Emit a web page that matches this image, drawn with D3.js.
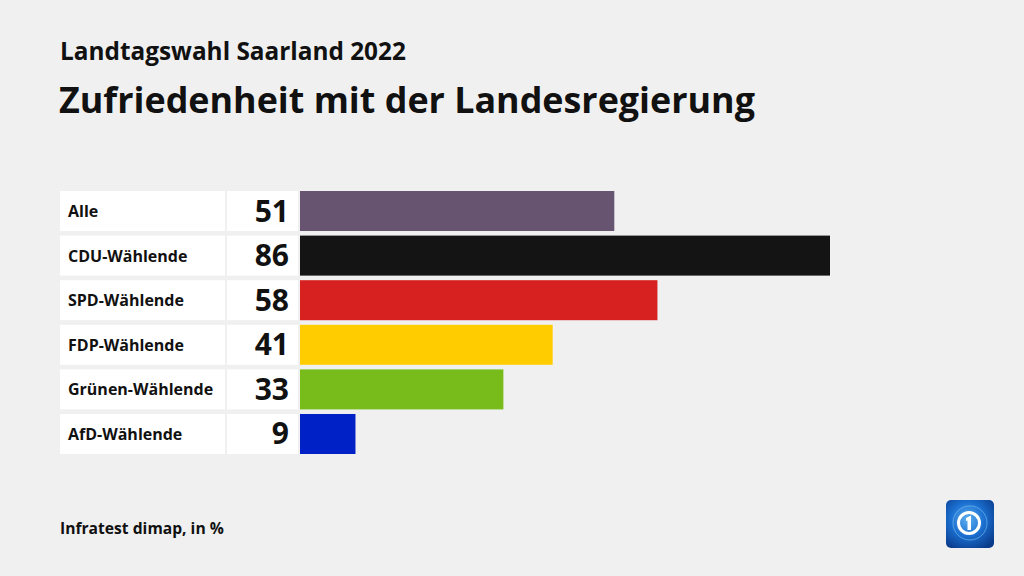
<!DOCTYPE html>
<html><head><meta charset="utf-8">
<script src="https://cdn.jsdelivr.net/npm/d3@7"></script>
<style>
html,body{margin:0;padding:0;background:#f0f0f0;}
text{font-family:"Open Sans","Noto Sans",sans-serif;font-weight:700;}
</style></head>
<body>
<svg id="c" width="1024" height="576"></svg>
<script>
const categories = ["Alle","CDU-Wählende","SPD-Wählende","FDP-Wählende","Grünen-Wählende","AfD-Wählende"];
const values = [51,86,58,41,33,9];
const colors = ["#675470","#141414","#d72020","#ffcc00","#78bc1b","#0021c5"];
const supertitle = "Landtagswahl Saarland 2022";
const title = "Zufriedenheit mit der Landesregierung";
const source = "Infratest dimap, in %";

const svg = d3.select("#c");
svg.append("rect").attr("width",1024).attr("height",576).attr("fill","#f0f0f0");

function fit(sel, w){
  const n = sel.node(); const fs = parseFloat(sel.attr("font-size"));
  const l = n.getComputedTextLength();
  sel.attr("font-size", fs*w/l);
  return sel;
}

fit(svg.append("text").attr("x",60).attr("y",60).attr("font-size",22).attr("fill","#111").text(supertitle),346);
fit(svg.append("text").attr("x",59).attr("y",113).attr("font-size",38).attr("fill","#111").text(title),696);

const y = d3.scaleBand().domain(categories).range([191,454]).paddingInner(0.103).paddingOuter(0);
const x = d3.scaleLinear().domain([0,86]).range([300,830]);

const g = svg.append("g");
const rows = g.selectAll("g.row").data(categories).join("g").attr("class","row");
rows.append("rect").attr("x",60).attr("y",d=>y(d)).attr("width",165).attr("height",y.bandwidth()).attr("fill","#fff");
rows.append("rect").attr("x",227).attr("y",d=>y(d)).attr("width",71).attr("height",y.bandwidth()).attr("fill","#fff");
rows.append("rect").attr("x",x(0)).attr("y",d=>y(d)).attr("width",(d,i)=>x(values[i])-x(0)).attr("height",y.bandwidth()).attr("fill",(d,i)=>colors[i]);
rows.append("text").attr("x",68).attr("y",d=>y(d)+y.bandwidth()/2+6).attr("font-size",16).attr("fill","#111").text(d=>d);
rows.append("text").attr("x",289).attr("y",d=>y(d)+y.bandwidth()/2+10.5).attr("font-size",30).attr("text-anchor","end").attr("fill","#111").text((d,i)=>values[i]);

fit(svg.append("text").attr("x",60).attr("y",534).attr("font-size",15).attr("fill","#111").text(source),164);

// logo
const defs = svg.append("defs");
const rg = defs.append("radialGradient").attr("id","lg").attr("cx","0.45").attr("cy","0.4").attr("r","0.7");
rg.append("stop").attr("offset","0").attr("stop-color","#5fb0f0");
rg.append("stop").attr("offset","0.5").attr("stop-color","#1a6fd0");
rg.append("stop").attr("offset","1").attr("stop-color","#0a3a8a");
const L = svg.append("g").attr("transform","translate(946,500)");
L.append("rect").attr("width",48).attr("height",48).attr("rx",5).attr("fill","url(#lg)");
L.append("circle").attr("cx",24).attr("cy",23).attr("r",17).attr("fill","none").attr("stroke","#7fc4f5").attr("stroke-width",1).attr("opacity",0.6);
L.append("circle").attr("cx",23).attr("cy",23).attr("r",10.5).attr("fill","none").attr("stroke","#fff").attr("stroke-width",3);
L.append("path").attr("d","M20 18 L25 15.5 L25 30 L21.5 30 L21.5 20.5 L20 21 Z").attr("fill","#fff");
</script>
</body></html>
